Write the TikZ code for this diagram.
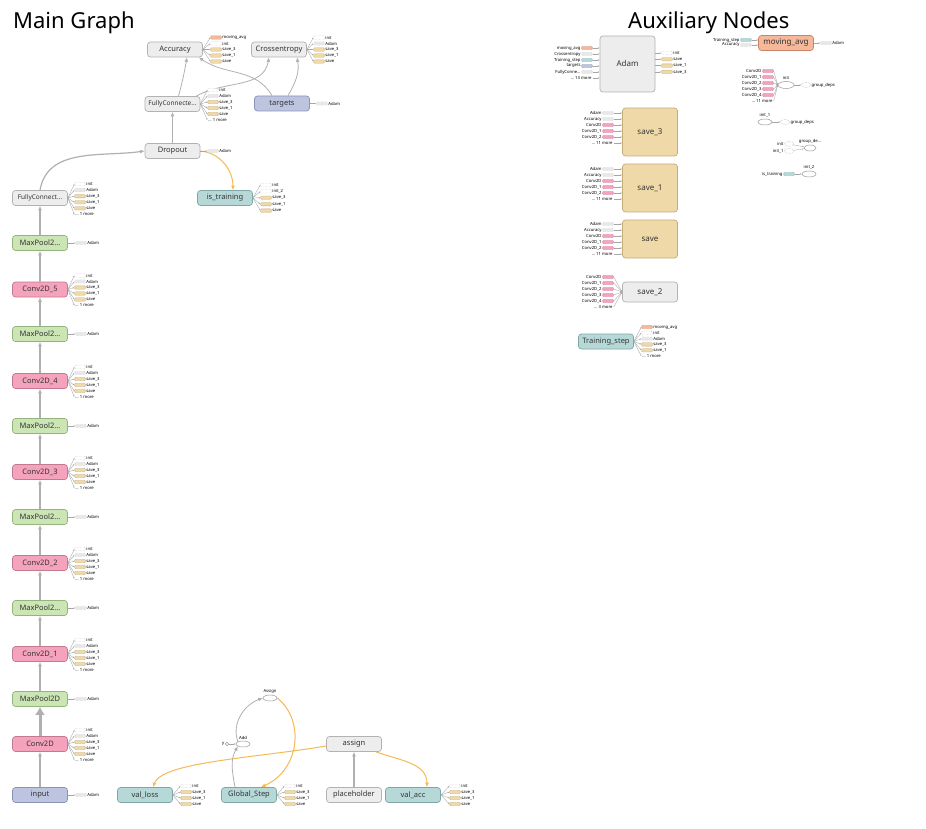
\documentclass[tikz,border=0pt]{standalone}
\usepackage{fontspec}
\setmainfont{Noto Sans}
\usetikzlibrary{arrows.meta,shapes.geometric}
\definecolor{gfill}{HTML}{EDEDED}\definecolor{gline}{HTML}{B2B2B2}
\definecolor{pfill}{HTML}{F5A3BC}\definecolor{pline}{HTML}{C27A90}
\definecolor{grfill}{HTML}{CBE5B5}\definecolor{grline}{HTML}{94B47E}
\definecolor{tfill}{HTML}{B6D9D8}\definecolor{tline}{HTML}{80A7A6}
\definecolor{bfill}{HTML}{BCC4DF}\definecolor{bline}{HTML}{8A94B5}
\definecolor{sfill}{HTML}{F0D9A8}\definecolor{sline}{HTML}{C5AB79}
\definecolor{mfill}{HTML}{F5B89B}\definecolor{mline}{HTML}{C98465}
\definecolor{orangec}{HTML}{F7B954}\definecolor{edgec}{HTML}{B0B0B0}
\tikzset{
 box/.style={rounded corners=3pt, minimum width=55pt, minimum height=15pt, line width=0.7pt, font=\fontsize{7.5}{9}\selectfont, text=black!80, inner sep=1pt},
 gbox/.style={box, fill=gfill, draw=gline},
 pbox/.style={box, fill=pfill, draw=pline},
 grbox/.style={box, fill=grfill, draw=grline},
 tbox/.style={box, fill=tfill, draw=tline},
 bbox/.style={box, fill=bfill, draw=bline},
 sbox/.style={box, fill=sfill, draw=sline},
 mbox/.style={box, fill=mfill, draw=mline},
 stub/.style={minimum width=11pt, minimum height=3.4pt, inner sep=0pt, rounded corners=1pt, line width=0.3pt},
 s-init/.style={stub, fill=white, draw=black!35, densely dotted},
 s-gray/.style={stub, fill=black!9, draw=black!25, densely dotted},
 s-tan/.style={stub, fill=sfill, draw=sfill!80!black},
 s-pink/.style={stub, fill=pfill, draw=pfill!85!black},
 s-sal/.style={stub, fill=mfill, draw=mfill!85!black},
 s-teal/.style={stub, fill=tfill, draw=tfill!85!black},
 s-blue/.style={stub, fill=bfill, draw=bfill!85!black},
 s-more/.style={stub, draw=none, fill=none, minimum width=0pt, xshift=-5.5pt},
 s-morei/.style={stub, draw=none, fill=none, minimum width=0pt, xshift=5.5pt},
 lab/.style={font=\fontsize{4.2}{5}\selectfont, inner sep=0.6pt, text=black},
 stubedge/.style={draw=black!35, line width=0.35pt, -{Latex[length=1.6pt,width=1.4pt]}},
 medge/.style={draw=edgec, line width=1.2pt, -{Latex[length=4.5pt,width=4pt]}},
 bigedge/.style={draw=edgec, line width=3pt, -{Latex[length=8pt,width=10pt]}},
 oedge/.style={draw=orangec, line width=1pt, -{Latex[length=4.5pt,width=4pt]}},
 ell/.style={ellipse, draw=black!40, fill=white, line width=0.5pt, minimum width=14pt, minimum height=6pt, inner sep=0pt},
 dell/.style={ell, densely dotted, draw=black!30, minimum width=9pt, minimum height=5pt},
}
\newcommand\outs[5]{%
  \foreach \st/\lb [count=\i] in {#5}{%
    \node[\st] (#1o\i) at ({#2},{#3+(\i-1)*#4}) {};
    \node[lab,anchor=west] (#1ol\i) at (#1o\i.east) {\lb};
    \draw[stubedge] (#1.east) -- (#1o\i.west);
  }}
\newcommand\outsh[5]{%
  \foreach \st/\lb [count=\i] in {#5}{%
    \node[\st] (#1o\i) at ({#2},{#3+(\i-1)*#4}) {};
    \node[lab,anchor=west] (#1ol\i) at (#1o\i.east) {\lb};
    \draw[stubedge] (#1.east |- #1o\i) -- (#1o\i.west);
  }}
\newcommand\ins[5]{%
  \foreach \st/\lb [count=\i] in {#5}{%
    \node[\st] (#1i\i) at ({#2},{#3+(\i-1)*#4}) {};
    \node[lab,anchor=east] (#1il\i) at (#1i\i.west) {\lb};
    \draw[stubedge] (#1i\i.east) -- (#1.west |- #1i\i);
  }}
\newcommand\insc[5]{%
  \foreach \st/\lb [count=\i] in {#5}{%
    \node[\st] (#1i\i) at ({#2},{#3+(\i-1)*#4}) {};
    \node[lab,anchor=east] (#1il\i) at (#1i\i.west) {\lb};
    \draw[stubedge] (#1i\i.east) -- (#1.west);
  }}
\begin{document}
\begin{tikzpicture}[x=1pt,y=-1pt]
\useasboundingbox[fill=white] (0,0) rectangle (926,829);
% titles
\node[anchor=base west, font=\fontsize{22}{26}\selectfont, inner sep=0pt] (t1) at (13,29) {Main Graph};
\node[anchor=base west, font=\fontsize{22}{26}\selectfont, inner sep=0pt] (t2) at (628,29) {Auxiliary Nodes};
% ---------- main graph nodes
\node[gbox] (acc) at (175,49.5) {Accuracy};
\node[gbox] (xent) at (279,49.5) {Crossentropy};
\node[gbox, font=\fontsize{6.5}{8}\selectfont] (fc1) at (172.5,104) {FullyConnecte\dots};
\node[bbox] (tgt) at (282,103.5) {targets};
\node[gbox] (drop) at (172.5,151) {Dropout};
\node[tbox] (istr) at (225,198) {is\_training};
\node[gbox, font=\fontsize{6.5}{8}\selectfont] (fc0) at (40,198) {FullyConnect\dots};
\node[grbox] (mp5) at (40,243) {MaxPool2\dots};
\node[pbox] (c5) at (40,289.5) {Conv2D\_5};
\node[grbox] (mp4) at (40,334) {MaxPool2\dots};
\node[pbox] (c4) at (40,381) {Conv2D\_4};
\node[grbox] (mp3) at (40,426) {MaxPool2\dots};
\node[pbox] (c3) at (40,472) {Conv2D\_3};
\node[grbox] (mp2) at (40,517) {MaxPool2\dots};
\node[pbox] (c2) at (40,563) {Conv2D\_2};
\node[grbox] (mp1) at (40,608) {MaxPool2\dots};
\node[pbox] (c1) at (40,654) {Conv2D\_1};
\node[grbox] (mp0) at (40,699) {MaxPool2D};
\node[pbox] (c0) at (40,744) {Conv2D};
\node[bbox] (inp) at (40,795) {input};
\node[tbox] (vl) at (145,795) {val\_loss};
\node[tbox] (gs) at (249,795) {Global\_Step};
\node[gbox] (ph) at (354,795) {placeholder};
\node[tbox] (va) at (413,795) {val\_acc};
\node[gbox] (asg) at (354,744) {assign};
\node[ell] (Asg) at (270,698) {};
\node[lab] (Asgl) at (270,691.5) {Assign};
\node[ell] (add) at (243,744) {};
\node[lab] (addl) at (243,737.5) {Add};
\node[circle, draw=black!40, fill=white, line width=0.4pt, minimum size=3.5pt, inner sep=0pt] (yy) at (227,744) {};
\node[lab, anchor=east] (yl) at (yy.west) {y};
% ---------- main edges
\draw[medge] (inp) -- (c0);
\draw[bigedge] (c0) -- (mp0);
\draw[medge] (mp0) -- (c1);
\draw[medge] (c1) -- (mp1);
\draw[medge] (mp1) -- (c2);
\draw[medge] (c2) -- (mp2);
\draw[medge] (mp2) -- (c3);
\draw[medge] (c3) -- (mp3);
\draw[medge] (mp3) -- (c4);
\draw[medge] (c4) -- (mp4);
\draw[medge] (mp4) -- (c5);
\draw[medge] (c5) -- (mp5);
\draw[medge] (mp5) -- (fc0);
\draw[medge] (fc0.north) to[out=80,in=188] (drop.west);
\draw[medge] (drop) -- (fc1);
\draw[oedge] (drop.east) to[out=-5,in=90] ([xshift=8pt]istr.north);
\draw[medge, line width=0.8pt] ([xshift=6pt]fc1.north) to[out=75,in=-100] ([xshift=12pt]acc.south);
\draw[medge, line width=0.8pt] ([xshift=-4pt]fc1.north east) to[out=30,in=-100] ([xshift=-10pt]xent.south);
\draw[medge, line width=0.8pt] ([xshift=-10pt]tgt.north) to[out=120,in=-35] ([xshift=-4pt]acc.south east);
\draw[medge, line width=0.8pt] ([xshift=6pt]tgt.north) to[out=60,in=-80] ([xshift=18pt]xent.south);
\draw[medge] (ph) -- (asg);
\draw[oedge] ([yshift=-2pt]asg.west) .. controls (255,758) and (162,762) .. ([xshift=8pt]vl.north);
\draw[oedge] ([xshift=-6pt]asg.south east) to[out=-20,in=90] ([xshift=14pt]va.north);
\draw[medge, line width=0.8pt] ([xshift=-14pt]gs.north) to[out=100,in=-120] (add.south west);
\draw[medge, line width=0.8pt] (add.north west) to[out=110,in=200] (Asg.west);
\draw[oedge] (Asg.east) .. controls (305,720) and (300,770) .. ([xshift=12pt]gs.north);
\draw[stubedge] (yy) -- (add);
% ---------- main stubs
\outs{acc}{216}{37.5}{6}{s-sal/moving\_avg, s-init/init, s-tan/save\_3, s-tan/save\_1, s-tan/save}
\outs{xent}{319}{37.5}{6}{s-init/init, s-gray/Adam, s-tan/save\_3, s-tan/save\_1, s-tan/save}
\outs{fc1}{213}{90}{6}{s-init/init, s-gray/Adam, s-tan/save\_3, s-tan/save\_1, s-tan/save, s-more/\dots\ 1 more}
\outs{tgt}{322}{103.5}{6}{s-gray/Adam}
\outs{drop}{213}{151}{6}{s-gray/Adam}
\outs{istr}{266}{185}{6.4}{s-init/init, s-init/init\_2, s-tan/save\_3, s-tan/save\_1, s-tan/save}
\outs{fc0}{80}{184}{6.1}{s-init/init, s-gray/Adam, s-tan/save\_3, s-tan/save\_1, s-tan/save, s-more/\dots\ 1 more}
\outs{mp5}{81}{243}{0}{s-gray/Adam}
\outs{mp4}{81}{334}{0}{s-gray/Adam}
\outs{mp3}{81}{426}{0}{s-gray/Adam}
\outs{mp2}{81}{517}{0}{s-gray/Adam}
\outs{mp1}{81}{608}{0}{s-gray/Adam}
\outs{mp0}{81}{699}{0}{s-gray/Adam}
\outs{inp}{81}{795}{0}{s-gray/Adam}
\outs{c5}{80}{275.5}{6}{s-init/init, s-gray/Adam, s-tan/save\_3, s-tan/save\_1, s-tan/save, s-more/\dots\ 1 more}
\outs{c4}{80}{367}{6}{s-init/init, s-gray/Adam, s-tan/save\_3, s-tan/save\_1, s-tan/save, s-more/\dots\ 1 more}
\outs{c3}{80}{458}{6}{s-init/init, s-gray/Adam, s-tan/save\_3, s-tan/save\_1, s-tan/save, s-more/\dots\ 1 more}
\outs{c2}{80}{549}{6}{s-init/init, s-gray/Adam, s-tan/save\_3, s-tan/save\_1, s-tan/save, s-more/\dots\ 1 more}
\outs{c1}{80}{640}{6}{s-init/init, s-gray/Adam, s-tan/save\_3, s-tan/save\_1, s-tan/save, s-more/\dots\ 1 more}
\outs{c0}{80}{730}{6}{s-init/init, s-gray/Adam, s-tan/save\_3, s-tan/save\_1, s-tan/save, s-more/\dots\ 1 more}
\outs{vl}{186}{786}{6}{s-init/init, s-tan/save\_3, s-tan/save\_1, s-tan/save}
\outs{gs}{290}{786}{6}{s-init/init, s-tan/save\_3, s-tan/save\_1, s-tan/save}
\outs{va}{455}{786}{6}{s-init/init, s-tan/save\_3, s-tan/save\_1, s-tan/save}
% ---------- auxiliary nodes
\node[gbox, minimum height=56pt, font=\fontsize{8}{10}\selectfont] (adam) at (627.5,64) {Adam};
\ins{adam}{587}{48}{6}{s-sal/moving\_avg, s-gray/Crossentropy, s-teal/Training\_step, s-blue/targets, s-gray/FullyConne\dots, s-morei/\dots\ 13 more}
\outsh{adam}{667}{53}{6.3}{s-init/init, s-tan/save, s-tan/save\_1, s-tan/save\_3}
\node[sbox, minimum height=48pt, font=\fontsize{8}{10}\selectfont] (s3) at (650,132) {save\_3};
\ins{s3}{608}{113}{6}{s-gray/Adam, s-gray/Accuracy, s-pink/Conv2D, s-pink/Conv2D\_1, s-pink/Conv2D\_2, s-morei/\dots\ 11 more}
\node[sbox, minimum height=48pt, font=\fontsize{8}{10}\selectfont] (s1) at (650,188) {save\_1};
\ins{s1}{608}{169}{6}{s-gray/Adam, s-gray/Accuracy, s-pink/Conv2D, s-pink/Conv2D\_1, s-pink/Conv2D\_2, s-morei/\dots\ 11 more}
\node[sbox, minimum height=38pt, font=\fontsize{8}{10}\selectfont] (s0) at (650,239) {save};
\ins{s0}{608}{224}{6}{s-gray/Adam, s-gray/Accuracy, s-pink/Conv2D, s-pink/Conv2D\_1, s-pink/Conv2D\_2, s-morei/\dots\ 11 more}
\node[gbox, minimum height=20pt, font=\fontsize{8}{10}\selectfont] (s2) at (650,292) {save\_2};
\insc{s2}{608}{277}{6}{s-pink/Conv2D, s-pink/Conv2D\_1, s-pink/Conv2D\_2, s-pink/Conv2D\_3, s-pink/Conv2D\_4, s-morei/\dots\ 3 more}
\node[tbox] (ts) at (606,341.5) {Training\_step};
\outs{ts}{647}{327}{5.8}{s-sal/moving\_avg, s-init/init, s-gray/Adam, s-tan/save\_3, s-tan/save\_1, s-more/\dots\ 1 more}
\node[mbox, font=\fontsize{8}{10}\selectfont] (mavg) at (786,43) {moving\_avg};
\ins{mavg}{746}{40}{5}{s-teal/Training\_step, s-gray/Accuracy}
\outsh{mavg}{826}{43}{6}{s-gray/Adam}
% init
\node[ell, minimum width=16pt, minimum height=7pt] (init) at (786,85) {};
\node[lab] (initl) at (786,78) {init};
\insc{init}{768}{71}{6}{s-pink/Conv2D, s-pink/Conv2D\_1, s-pink/Conv2D\_2, s-pink/Conv2D\_3, s-pink/Conv2D\_4, s-morei/\dots\ 11 more}
\node[dell] (gd1) at (806,85) {};
\node[lab, anchor=west] (gd1l) at (gd1.east) {group\_deps};
\draw[stubedge] (init) -- (gd1);
% init_1
\node[ell] (i1) at (765,122) {};
\node[lab] (i1l) at (765,115.5) {init\_1};
\node[dell] (gd2) at (785,122) {};
\node[lab, anchor=west] (gd2l) at (gd2.east) {group\_deps};
\draw[stubedge] (i1) -- (gd2);
% group_de...
\node[ell, minimum width=12pt] (gd3) at (810,148) {};
\node[lab] (gd3l) at (810,141.5) {group\_de\dots};
\node[dell] (gd3a) at (789,144) {};
\node[lab, anchor=east] (gd3al) at (gd3a.west) {init};
\node[dell] (gd3b) at (789,151) {};
\node[lab, anchor=east] (gd3bl) at (gd3b.west) {init\_1};
\draw[stubedge] (gd3a) -- (gd3);
\draw[stubedge] (gd3b) -- (gd3);
% init_2
\node[ell] (i2) at (809,174) {};
\node[lab] (i2l) at (809,167.5) {init\_2};
\node[s-teal] (i2s) at (789,174) {};
\node[lab, anchor=east] (i2sl) at (i2s.west) {is\_training};
\draw[stubedge] (i2s) -- (i2);
\end{tikzpicture}
\end{document}
